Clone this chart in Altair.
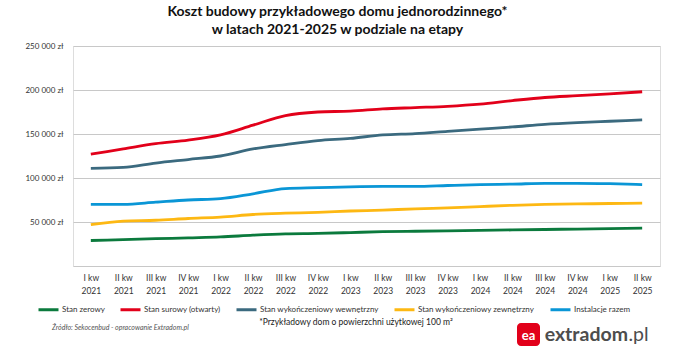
import altair as alt
import pandas as pd

quarters = ["I kw", "II kw", "III kw", "IV kw"] * 4 + ["I kw", "II kw"]
years = ["2021"] * 4 + ["2022"] * 4 + ["2023"] * 4 + ["2024"] * 4 + ["2025"] * 2
periods = [f"{q}|{y}" for q, y in zip(quarters, years)]

series_names = [
    "Stan zerowy",
    "Stan surowy (otwarty)",
    "Stan wykończeniowy wewnętrzny",
    "Stan wykończeniowy zewnętrzny",
    "Instalacje razem",
]
series_colors = ["#0b7a3d", "#e2001a", "#3b6a7f", "#fdb813", "#0a96d6"]

stan_zerowy = [29000, 30000, 31000, 32000, 33000, 35000, 36500, 37000, 38000,
               39000, 39500, 40000, 40500, 41000, 41500, 42000, 42500, 43000]
stan_surowy = [127000, 133000, 139000, 143000, 149000, 160000, 171000, 175000, 176000,
               178500, 180000, 181500, 184000, 188000, 191500, 193500, 195500, 198000]
wykon_wew = [111000, 112000, 117000, 121000, 125000, 133000, 138000, 142500, 145000,
             149000, 150500, 153000, 155500, 158000, 161000, 163000, 164500, 166000]
wykon_zew = [47000, 51000, 52000, 54000, 55500, 58500, 60000, 61000, 62500,
             63500, 65000, 66000, 67500, 69000, 70000, 70500, 71000, 71500]
instalacje = [70000, 70000, 72500, 75000, 76500, 82000, 88000, 89000, 90000,
              90500, 90500, 91500, 92500, 93000, 94000, 94000, 93500, 92500]

all_values = [stan_zerowy, stan_surowy, wykon_wew, wykon_zew, instalacje]

rows = []
for name, vals in zip(series_names, all_values):
    for i, (p, v) in enumerate(zip(periods, vals)):
        rows.append({"okres": p, "seria": name, "wartosc": v, "idx": i})
df = pd.DataFrame(rows)

FONT = "Lato"

lines = alt.Chart(df).mark_line(strokeWidth=2.8, interpolate="monotone").encode(
    x=alt.X(
        "okres:N",
        sort=periods,
        scale=alt.Scale(type="point", padding=0.55),
        axis=alt.Axis(
            title=None,
            labelExpr="split(datum.label, '|')",
            labelAngle=0,
            labelFontSize=8.5,
            labelColor="#333333",
            labelFont=FONT,
            labelLineHeight=13,
            labelPadding=7,
            ticks=False,
            domain=False,
            grid=False,
        ),
    ),
    y=alt.Y(
        "wartosc:Q",
        scale=alt.Scale(domain=[0, 250000], nice=False),
        axis=alt.Axis(
            title=None,
            values=[0, 50000, 100000, 150000, 200000, 250000],
            labelExpr="datum.value == 0 ? '' : replace(format(datum.value, ','), regexp(',', 'g'), ' ') + ' zł'",
            labelFontSize=8,
            labelColor="#333333",
            labelFont=FONT,
            labelPadding=10,
            ticks=False,
            domain=False,
            grid=True,
            gridColor="#c8c8c8",
            gridWidth=1,
        ),
    ),
    color=alt.Color(
        "seria:N",
        sort=series_names,
        scale=alt.Scale(domain=series_names, range=series_colors),
        legend=alt.Legend(
            orient="none",
            legendX=-36,
            legendY=252,
            direction="horizontal",
            title=None,
            symbolType="stroke",
            symbolStrokeWidth=3,
            symbolSize=400,
            labelFontSize=8,
            labelFont=FONT,
            labelColor="#333333",
            labelOffset=2,
            columnPadding=9,
            labelLimit=200,
        ),
    ),
    order="idx:Q",
)

def txt(text, x, y, size, **kw):
    d = pd.DataFrame({"t": [text]})
    return alt.Chart(d).mark_text(fontSize=size, font=FONT, **kw).encode(
        text="t:N", x=alt.value(x), y=alt.value(y)
    )

ox, oy = 73, 46  # plot origin in page coordinates

footnote = txt("*Przykładowy dom o powierzchni użytkowej 100 m²", 356 - ox, 322 - oy, 8.5,
               align="center", baseline="middle", color="#222222")
source = txt("Źródło: Sekocenbud - opracowanie Extradom.pl", 52 - ox, 328 - oy, 7,
             align="left", baseline="middle", color="#555555", fontStyle="italic")

logo_box = alt.Chart(pd.DataFrame({"a": [1]})).mark_rect(
    color="#e2001a", cornerRadius=4
).encode(
    x=alt.value(517 - ox), x2=alt.value(540 - ox),
    y=alt.value(323 - oy), y2=alt.value(346 - oy),
)
logo_ea = txt("ea", 528.5 - ox, 336 - oy, 13, align="center", baseline="middle",
              color="white", fontWeight="bold")
logo_text = txt("extradom", 628 - ox, 335 - oy, 19.5, align="right", baseline="middle",
                color="#4d4d4d", fontWeight="bold")
logo_pl = txt(".pl", 628.5 - ox, 335 - oy, 19.5, align="left", baseline="middle",
              color="#4d4d4d")

chart = alt.layer(
    lines, footnote, source, logo_box, logo_ea, logo_text, logo_pl
).properties(
    width=587,
    height=220,
    autosize=alt.AutoSizeParams(type="none"),
    padding={"left": ox, "top": oy, "right": 40, "bottom": 84},
    title=alt.TitleParams(
        text=[
            "Koszt budowy przykładowego domu jednorodzinnego*",
            "w latach 2021-2025 w podziale na etapy",
        ],
        font=FONT,
        fontSize=14,
        fontWeight="bold",
        color="#111111",
        lineHeight=18,
        anchor="middle",
        dx=-29,
        offset=5,
    ),
).configure_view(stroke=None).configure(background="white")

chart.save("out.html", embed_options={"renderer": "svg", "actions": False})
